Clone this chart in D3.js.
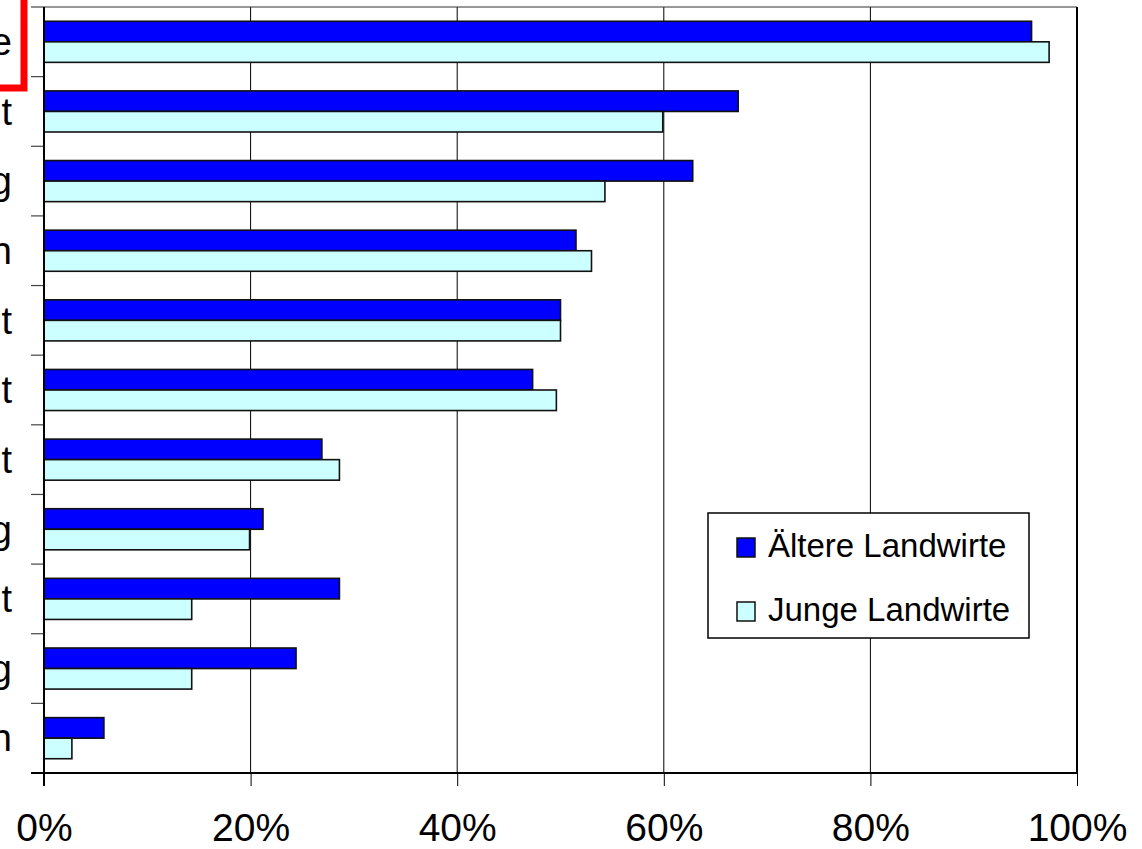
<!DOCTYPE html>
<html>
<head>
<meta charset="utf-8">
<script src="https://cdn.jsdelivr.net/npm/d3@7"></script>
<style>
  body { margin: 0; background: #fff; }
  svg { display: block; font-family: "Liberation Sans", Arial, sans-serif; }
</style>
</head>
<body>
<svg id="chart" width="1142" height="849"></svg>
<script>
// data (top row first)
var categories = ["e", "t", "g", "n", "t", "t", "t", "g", "t", "g", "n"];
var seriesNames = ["Ältere Landwirte", "Junge Landwirte"];
var aeltere = [0.956, 0.672, 0.628, 0.515, 0.500, 0.473, 0.269, 0.212, 0.286, 0.244, 0.058];
var junge   = [0.973, 0.599, 0.543, 0.530, 0.500, 0.496, 0.286, 0.199, 0.143, 0.143, 0.027];
var xTicks  = [0, 0.2, 0.4, 0.6, 0.8, 1.0];
var colors  = ["#0000ff", "#ccffff"];

var svg = d3.select("#chart"),
    MARGINS = { top: 7, right: 65, bottom: 76, left: 44 },
    W = 1142, H = 849;

var x = d3.scaleLinear().domain([0, 1]).range([MARGINS.left, W - MARGINS.right]);
var y = d3.scaleBand()
    .domain(d3.range(categories.length))
    .range([MARGINS.top, H - MARGINS.bottom])
    .paddingInner(0.41).paddingOuter(0.205);
var ySub = d3.scaleBand().domain([0, 1]).range([0, y.bandwidth()]);

var rows = categories.map(function (c, i) {
  return { i: i, label: c, vals: [aeltere[i], junge[i]] };
});

// vertical gridlines
svg.append("g").selectAll("line")
  .data(xTicks.slice(1, -1))
  .enter().append("line")
  .attr("x1", function (d) { return x(d); })
  .attr("x2", function (d) { return x(d); })
  .attr("y1", MARGINS.top).attr("y2", H - MARGINS.bottom)
  .attr("stroke", "#000").attr("stroke-width", 1);

// plot frame: thin top, thicker right
svg.append("line")
  .attr("x1", x(0)).attr("x2", x(1))
  .attr("y1", MARGINS.top).attr("y2", MARGINS.top)
  .attr("stroke", "#333").attr("stroke-width", 1.2);
svg.append("line")
  .attr("x1", x(1)).attr("x2", x(1))
  .attr("y1", MARGINS.top).attr("y2", H - MARGINS.bottom)
  .attr("stroke", "#000").attr("stroke-width", 2);

// bars
var groups = svg.append("g").selectAll("g")
  .data(rows).enter().append("g")
  .attr("transform", function (d) { return "translate(0," + y(d.i) + ")"; });

groups.selectAll("rect")
  .data(function (d) { return d.vals; })
  .enter().append("rect")
  .attr("x", x(0))
  .attr("y", function (d, j) { return ySub(j); })
  .attr("width", function (d) { return x(d) - x(0); })
  .attr("height", ySub.bandwidth())
  .attr("fill", function (d, j) { return colors[j]; })
  .attr("stroke", "#111").attr("stroke-width", 1.6);

// category ticks on the left axis (band boundaries)
var step = y.step();
svg.append("g").selectAll("line")
  .data(d3.range(categories.length + 1))
  .enter().append("line")
  .attr("x1", MARGINS.left - 13).attr("x2", MARGINS.left)
  .attr("y1", function (i) { return MARGINS.top + i * step; })
  .attr("y2", function (i) { return MARGINS.top + i * step; })
  .attr("stroke", "#444").attr("stroke-width", 1.2);

// category labels (only the visible ends of the names)
svg.append("g").selectAll("text")
  .data(rows).enter().append("text")
  .attr("x", 12)
  .attr("y", function (d) { return y(d.i) + y.bandwidth() / 2; })
  .attr("dy", "0.35em")
  .attr("text-anchor", "end")
  .attr("font-size", 38)
  .text(function (d) { return d.label; });

// x axis
var xAxis = d3.axisBottom(x).tickValues(xTicks).tickSize(13).tickPadding(27)
  .tickFormat(d3.format(".0%"));
var xAxisG = svg.append("g").attr("id", "xAxisG")
  .attr("transform", "translate(0," + (H - MARGINS.bottom) + ")")
  .call(xAxis);
xAxisG.select(".domain").remove();
xAxisG.selectAll(".tick line").attr("stroke", "#000").attr("stroke-width", 1);
xAxisG.selectAll(".tick text")
  .attr("font-size", 39).attr("font-family", "'Liberation Sans', Arial, sans-serif")
  .attr("fill", "#000");

// axis lines
svg.append("line")
  .attr("x1", MARGINS.left - 13).attr("x2", x(1))
  .attr("y1", H - MARGINS.bottom).attr("y2", H - MARGINS.bottom)
  .attr("stroke", "#000").attr("stroke-width", 2);
svg.append("line")
  .attr("x1", MARGINS.left).attr("x2", MARGINS.left)
  .attr("y1", MARGINS.top).attr("y2", H - MARGINS.bottom + 13)
  .attr("stroke", "#000").attr("stroke-width", 2);

// legend
var legend = svg.append("g").attr("transform", "translate(708,513)");
legend.append("rect")
  .attr("width", 321).attr("height", 125)
  .attr("fill", "#fff").attr("stroke", "#000").attr("stroke-width", 1.5);
var li = legend.selectAll("g.item")
  .data(seriesNames).enter().append("g").attr("class", "item")
  .attr("transform", function (d, j) { return "translate(29," + (25 + j * 64) + ")"; });
li.append("rect")
  .attr("width", 18).attr("height", 19)
  .attr("fill", function (d, j) { return colors[j]; })
  .attr("stroke", "#111").attr("stroke-width", 1.5);
li.append("text")
  .attr("x", 31).attr("y", 19)
  .attr("font-size", 33)
  .text(function (d) { return d; });

// red highlight box at top-left
svg.append("rect")
  .attr("x", -20).attr("y", -20)
  .attr("width", 44).attr("height", 108)
  .attr("fill", "none").attr("stroke", "#ff0000").attr("stroke-width", 7);
</script>
</body>
</html>
